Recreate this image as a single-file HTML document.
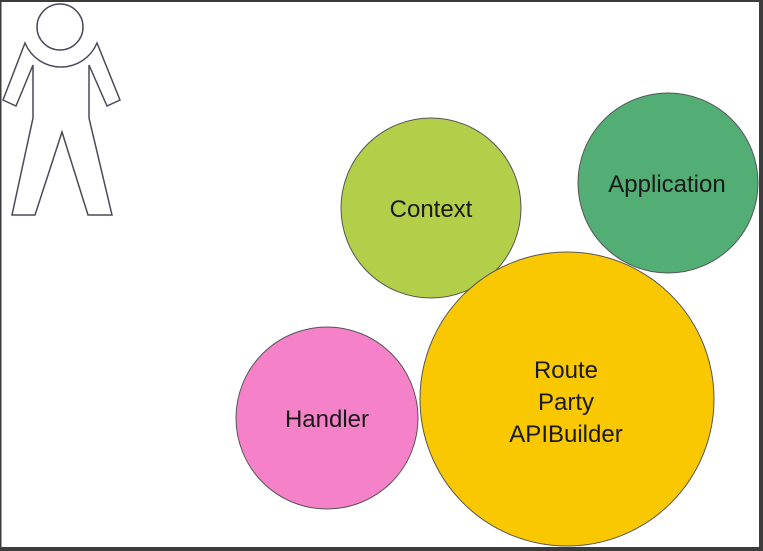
<!DOCTYPE html>
<html><head><meta charset="utf-8"><style>
html,body{margin:0;padding:0;background:#fff}
svg{display:block}
text{font-family:"Liberation Sans",sans-serif;font-size:24px;fill:#1a1a1a;text-anchor:middle}
</style></head><body>
<svg width="763" height="551" viewBox="0 0 763 551" xmlns="http://www.w3.org/2000/svg">
<rect x="0" y="0" width="763" height="551" fill="#fff"/>
<g fill="none" stroke="#4a4a5a" stroke-width="1.5" stroke-linejoin="miter">
<circle cx="60" cy="27" r="23"/>
<path d="M25,43 A39,39 0 0 0 97,43 L120,100 L107,106 L89,65 L89,118 L112,215 L88,215 L62,132 L35,215 L12,215 L33,118 L33,65 L16,106 L3,100 Z"/>
</g>
<g stroke="#555" stroke-width="1">
<circle cx="431" cy="208" r="90" fill="#b3cf4a"/>
<circle cx="668" cy="183" r="90" fill="#52ae74"/>
<circle cx="567" cy="399" r="147" fill="#f9c800"/>
<circle cx="327" cy="418" r="91" fill="#f582c8"/>
</g>
<text x="431" y="217">Context</text>
<text x="667" y="192">Application</text>
<text x="566" y="378">Route</text>
<text x="566" y="410">Party</text>
<text x="566" y="442">APIBuilder</text>
<text x="327" y="427">Handler</text>
<rect x="0" y="0" width="763" height="2" fill="#3c3c3c"/>
<rect x="0" y="0" width="1.5" height="551" fill="#3c3c3c"/>
<rect x="759" y="0" width="4" height="551" fill="#3c3c3c"/>
<rect x="0" y="547" width="763" height="4" fill="#3c3c3c"/>
</svg>
</body></html>
